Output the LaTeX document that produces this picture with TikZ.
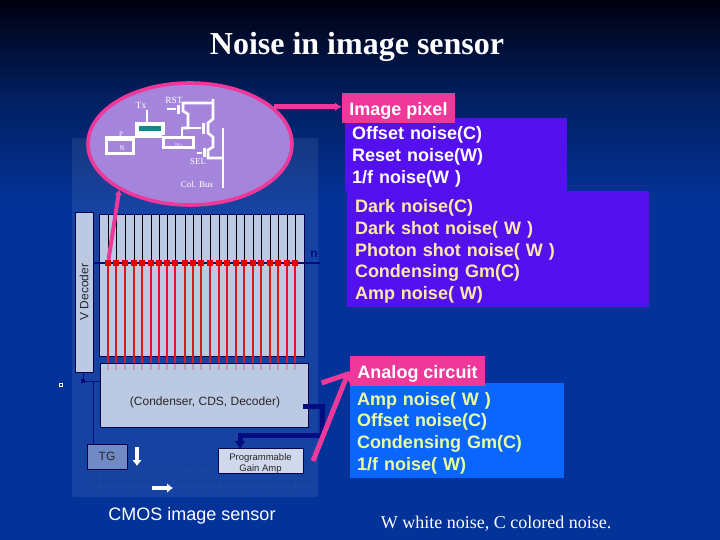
\documentclass[tikz,border=0pt]{standalone}
\usepackage{fontspec}
\setmainfont{Liberation Serif}
\setsansfont{Liberation Sans}
\usetikzlibrary{arrows.meta,shapes.geometric}
\definecolor{bgtop}{HTML}{00000F}
\definecolor{bgmid}{HTML}{021F60}
\definecolor{bgbot}{HTML}{033399}
\definecolor{lightblock}{HTML}{BCC9E3}
\definecolor{hotpink}{HTML}{F0389A}
\definecolor{lilac}{HTML}{A585DC}
\definecolor{violetbox}{HTML}{5510F0}
\definecolor{brightblue}{HTML}{0A66FF}
\definecolor{navyline}{HTML}{000C80}
\definecolor{redcol}{HTML}{D81A22}
\definecolor{tealgate}{HTML}{0F8A8A}
\definecolor{tgblue}{HTML}{6F8AC4}
\definecolor{creamtext}{HTML}{FFE8A8}
\definecolor{limetext}{HTML}{E8FFA0}
\pgfdeclareverticalshading{slidebg}{100bp}{color(0bp)=(bgbot); color(56bp)=(bgbot); color(66bp)=(bgmid); color(75bp)=(bgtop); color(100bp)=(bgtop)}
\tikzset{
  block/.style={draw=black!70!blue, fill=lightblock, line width=0.8pt, inner sep=0pt, font=\sffamily, text=black!85},
  noisebox/.style={inner ysep=0pt, inner xsep=7pt, font=\sffamily\bfseries\fontsize{18}{21.7}\selectfont, align=left, execute at begin node={\rule{0pt}{18pt}}},
  tagbox/.style={fill=hotpink, text=white, inner sep=0pt, font=\sffamily\bfseries\fontsize{18}{21.7}\selectfont, execute at begin node={\rule{0pt}{18pt}}},
  pinkline/.style={draw=hotpink, line width=5pt},
  wire/.style={draw=white, line width=2.6pt},
  tinylabel/.style={text=white, inner sep=0pt, font=\rmfamily\fontsize{9}{9}\selectfont},
  redsq/.style={fill=red!90!black, minimum size=6pt, inner sep=0pt},
}
\begin{document}
\begin{tikzpicture}[x=1pt,y=-1pt]
  \useasboundingbox (0,0) rectangle (720,540);
  \shade[shading=slidebg] (0,0) rectangle (720,540);
  \fill[white, fill opacity=0.08, rounded corners=2pt] (72,138) rectangle (318,497);
  \foreach \yc in {470,478,487}{
    \draw[white, opacity=0.025, line width=0.8pt] (92,\yc) -- (312,\yc);
  }
  \foreach \xc in {100,130,190,205,220,245,270,295}{
    \draw[white, opacity=0.025, line width=0.8pt] (\xc,470) -- (\xc,494);
  }

  % pixel array and decoder
  \node[block, minimum width=18pt, minimum height=160pt] (vdecoder) at (84,292) {};
  \node[text=black!85, inner sep=0pt, rotate=90, font=\sffamily\fontsize{12}{12}\selectfont] (vlabel) at (84,292) {V Decoder};
  \node[block, minimum width=205pt, minimum height=142pt] (array) at (201.5,285) {};
  \foreach \xc in {108,116,125,134,142,151,159,167,175,185,193,201,210,219,227,236,244,253,261,270,278,287,295}{
    \draw[black, line width=0.7pt] (\xc,214) -- (\xc,263);
    \draw[redcol, line width=2pt] (\xc,263) -- (\xc,365);
  }
  \coordinate (rowend) at (320,263);
  \coordinate (rowstart) at (93,263);
  \draw[navyline, line width=1.6pt] (rowstart) -- (rowend);
  \foreach \i/\xc in {1/108,2/116,3/125,4/134,5/142,6/151,7/159,8/167,9/175,10/185,11/193,12/201,13/210,14/219,15/227,16/236,17/244,18/253,19/261,20/270,21/278,22/287,23/295}{
    \node[redsq] (col\i) at (\xc,263) {};
  }
  \node[text=navyline, inner sep=0pt, font=\sffamily\bfseries\fontsize{12}{12}\selectfont] (nlabel) at (314,254) {n};

  % readout
  \node[block, minimum width=208pt, minimum height=64pt] (readout) at (204,395) {};
  \node[text=black!85, inner sep=0pt, font=\sffamily\fontsize{12}{12}\selectfont] (readlabel) at (205,402) {(Condenser, CDS, Decoder)};
  \foreach \xc in {108,116,125,134,142,151,159,167,175,185,193,201,210,219,227,236,244,253,261,270,278,287,295}{
    \draw[redcol, line width=2pt, opacity=0.25] (\xc,364) -- (\xc,370);
  }
  \node[block, fill=tgblue, minimum width=40pt, minimum height=25pt, font=\sffamily\fontsize{12}{12}\selectfont] (tg) at (107,456.5) {TG};
  \node[block, fill=lightblock!70!white, minimum width=85pt, minimum height=23pt, align=center, font=\sffamily\fontsize{9.5}{11}\selectfont] (pga) at (260.5,460.5) {\rule{0pt}{12pt}Programmable\\Gain Amp};
  \node[fill=navyline, minimum size=4pt, inner sep=0pt] (tap) at (83,381) {};
  \coordinate (tgtap) at (93,381);
  \draw[navyline, line width=0.8pt] (vdecoder.south -| tap) -- (tap) -- (tap -| readout.west);
  \draw[navyline, line width=0.8pt] (tgtap) -- (tgtap |- tg.north);
  \coordinate (ampout) at (303,406);
  \draw[navyline, line width=5pt, -{Latex[length=8pt,width=12pt]}] (ampout) -- (322,406) -- (322,435) -- (240,435) -- (240,449);
  \coordinate (dnA) at (137,447);
  \coordinate (dnB) at (137,466);
  \coordinate (rtA) at (152,488);
  \coordinate (rtB) at (173,488);
  \draw[white, line width=4pt, -{Latex[length=6pt,width=10pt]}] (dnA) -- (dnB);
  \draw[white, line width=4pt, -{Latex[length=6pt,width=10pt]}] (rtA) -- (rtB);
  \node[draw=white, line width=1pt, minimum size=3pt, inner sep=0pt] (marker) at (61,385) {};

  % zoomed pixel
  \coordinate (arrowfoot) at (313,461);
  \coordinate (analogtip) at (349,371);
  \draw[pinkline, -{Straight Barb[length=18pt,width=42pt]}] (arrowfoot) -- (analogtip);
  \node[ellipse, draw=hotpink, fill=lilac, line width=3.6pt, minimum width=204pt, minimum height=122pt] (pixel) at (190,144) {};
  \node[tinylabel, font=\rmfamily\fontsize{9.5}{9.5}\selectfont] (txlabel) at (141,105) {Tx};
  \node[tinylabel, font=\rmfamily\fontsize{9.5}{9.5}\selectfont] (rstlabel) at (174,100) {RST};
  \node[tinylabel, font=\rmfamily\fontsize{7}{7}\selectfont] (plabel) at (121,134) {P};
  \node[draw=white, fill=lilac, line width=3pt, minimum width=27pt, minimum height=16pt, inner sep=0pt] (pwell) at (119.5,146) {};
  \draw[white, line width=2.4pt] (pwell.north west) ++(0,3) -- ++(27,0);
  \node[tinylabel, font=\rmfamily\fontsize{7}{7}\selectfont] (nwell) at (122,148) {N};
  \node[draw=white, fill=tealgate, line width=3.6pt, minimum width=26pt, minimum height=9pt, inner sep=0pt] (txgate) at (150,128.5) {};
  \node[draw=white, fill=lilac, line width=3pt, minimum width=30pt, minimum height=10pt, inner sep=0pt] (fdiff) at (178.5,143) {};
  \node[tinylabel, font=\rmfamily\fontsize{6}{6}\selectfont] (fdlabel) at (179,146) {N+};
  \coordinate (txstem) at (147,110);
  \draw[wire] (txstem) -- (txstem |- txgate.north);
  \draw[wire] (pwell.east |- fdiff.north) -- (fdiff.north west);
  % transistors
  \draw[wire] (182,138) -- (182,128) -- (201,128);
  \draw[wire] (182,128) -- (188,128) -- (188,114) -- (183,111) -- (183,103) -- (213,103);
  \draw[wire] (213,99) -- (213,119) -- (208,123) -- (208,133) -- (213,137) -- (213,147) -- (208,150) -- (208,158) -- (223,158);
  \draw[wire] (223,128) -- (223,188);
  \draw[wire] (167,109) -- (176,109);
  \draw[wire, line width=3pt] (178,105) -- (178,114);
  \draw[wire, line width=3pt] (203,123) -- (203,134);
  \draw[wire] (197,153) -- (202,153);
  \draw[wire, line width=3pt] (204,148) -- (204,157);
  \node[tinylabel] (sellabel) at (198,162) {SEL};
  \node[tinylabel] (buslabel) at (197,184) {Col. Bus};

  % noise lists
  \node[noisebox, fill=violetbox, text=white, minimum height=73pt, text width=208pt] (pixelnoise) at (456,154.5) {Offset noise(C)\\Reset noise(W)\\1/f noise(W )};
  \node[noisebox, inner xsep=8pt, fill=violetbox, text=creamtext, minimum height=116pt, text width=286pt] (darknoise) at (498,249) {Dark noise(C)\\Dark shot noise( W )\\Photon shot noise( W )\\Condensing Gm(C)\\Amp noise( W)};
  \node[noisebox, fill=brightblue, text=limetext, minimum height=95pt, text width=200pt] (analognoise) at (457,430.5) {Amp noise( W )\\Offset noise(C)\\Condensing Gm(C)\\1/f noise( W)};
  \node[tagbox, minimum width=113pt, minimum height=30pt] (imagepixel) at (398.5,108) {Image pixel};
  \node[tagbox, minimum width=135pt, minimum height=30pt] (analogtag) at (417.5,371) {Analog circuit};

  % pointers
  \draw[pinkline, -{Latex[length=7pt,width=9pt]}] (pixel.24) -- (pixel.24 -| imagepixel.west);
  \draw[pinkline, line width=4pt, -{Latex[length=5pt,width=8pt]}] (col1) -- (pixel.213);

  % captions
  \node[text=white, inner sep=0pt, font=\rmfamily\bfseries\fontsize{32}{32}\selectfont] (title) at (357,47) {Noise in image sensor};
  \node[text=white, inner sep=0pt, font=\sffamily\fontsize{18}{18}\selectfont] (sensorcap) at (192,515.5) {CMOS image sensor};
  \node[text=white, inner sep=0pt, font=\rmfamily\fontsize{18}{18}\selectfont] (legend) at (496,524) {W white noise, C colored noise.};
\end{tikzpicture}
\end{document}
